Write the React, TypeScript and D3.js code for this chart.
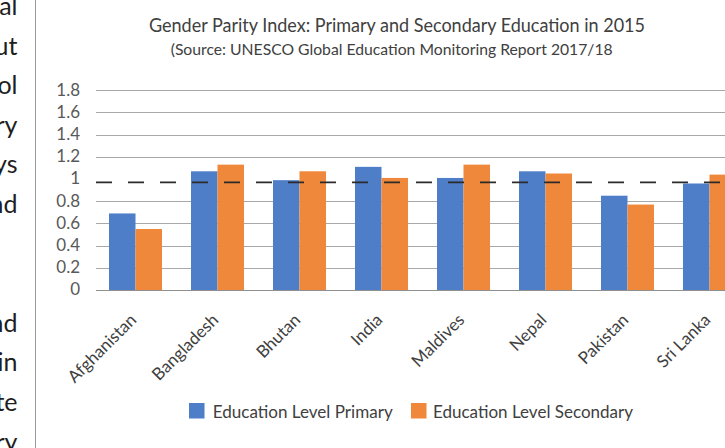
import React from "react";
import * as d3 from "d3";

// Gender Parity Index, 2015 (UNESCO GEM Report 2017/18)
const countries = [
  "Afghanistan",
  "Bangladesh",
  "Bhutan",
  "India",
  "Maldives",
  "Nepal",
  "Pakistan",
  "Sri Lanka",
];
const primary = [0.69, 1.07, 0.99, 1.11, 1.01, 1.07, 0.85, 0.96];
const secondary = [0.55, 1.13, 1.07, 1.01, 1.13, 1.05, 0.77, 1.04];
const seriesNames = ["Education Level Primary", "Education Level Secondary"];
const yTicks = [0, 0.2, 0.4, 0.6, 0.8, 1, 1.2, 1.4, 1.6, 1.8];
const parityLine = 0.97;

// Word endings of the neighbouring page column
const sideText = ["al", "ut", "ol", "ry", "ys", "nd", "", "", "nd", "in", "te", "ry"];

const W = 725;
const H = 448;
const FONT = "Lato, 'Open Sans', 'Noto Sans', sans-serif";
const BLUE = "#4f7ec9";
const ORANGE = "#ef883a";

export default function App() {
  const x = d3.scaleBand<string>().domain(countries).range([94.5, 750.5]).padding(0);
  const y = d3.scaleLinear().domain([0, 1.8]).range([290, 90.3]);
  const barW = 26.5;
  const groupOffset = (x.bandwidth() - 2 * barW) / 2;
  const series = [primary, secondary];
  const colors = [BLUE, ORANGE];

  return (
    <svg
      width={W}
      height={H}
      style={{ position: "absolute", left: 0, top: 0, background: "#fff" }}
      fontFamily={FONT}
    >
      <rect width={W} height={H} fill="#fff" />

      {/* page column on the left */}
      {sideText.map((t, i) =>
        t ? (
          <text key={i} x={17.5} y={15 + i * 39.6} fontSize={25} fill="#1e1e1e" textAnchor="end">
            {t}
          </text>
        ) : null
      )}
      <line x1={35.5} x2={35.5} y1={0} y2={H} stroke="#9a9a9a" strokeWidth={1} />

      {/* titles */}
      <text x={397} y={32} fontSize={19.5} fill="#404040" textAnchor="middle" textLength={496} lengthAdjust="spacingAndGlyphs">
        Gender Parity Index: Primary and Secondary Education in 2015
      </text>
      <text x={391.7} y={55} fontSize={16} fill="#404040" textAnchor="middle" textLength={442} lengthAdjust="spacingAndGlyphs">
        (Source: UNESCO Global Education Monitoring Report 2017/18
      </text>

      {/* gridlines */}
      {yTicks
        .filter((t) => t !== 1)
        .map((t) => (
          <line
            key={t}
            x1={96}
            x2={W}
            y1={Math.round(y(t)) + 0.5}
            y2={Math.round(y(t)) + 0.5}
            stroke={t === 0 ? "#8f8f8f" : "#a8a8a8"}
            strokeWidth={1}
          />
        ))}

      {/* y tick labels */}
      {yTicks.map((t) => (
        <text key={t} x={80} y={y(t) + 1} fontSize={17} fill="#595959" textAnchor="end" dominantBaseline="middle">
          {String(t)}
        </text>
      ))}

      {/* bars */}
      {countries.map((c, i) => (
        <g key={c}>
          {series.map((s, k) => (
            <rect
              key={k}
              x={(x(c) as number) + groupOffset + k * barW}
              y={y(s[i])}
              width={barW}
              height={y(0) - y(s[i])}
              fill={colors[k]}
            />
          ))}
        </g>
      ))}

      {/* parity reference line */}
      <line
        x1={96}
        x2={W}
        y1={y(parityLine)}
        y2={y(parityLine)}
        stroke="#2b2b2b"
        strokeWidth={1.6}
        strokeDasharray="16 16"
      />

      {/* category labels */}
      {countries.map((c) => (
        <text
          key={c}
          transform={`translate(${(x(c) as number) + x.bandwidth() / 2 + 2},321) rotate(-45)`}
          fontSize={17}
          fill="#404040"
          textAnchor="end"
        >
          {c}
        </text>
      ))}

      {/* legend */}
      <rect x={189} y={403} width={15.5} height={15.5} fill={BLUE} />
      <text x={212.7} y={417.5} fontSize={17} fill="#404040" textLength={180} lengthAdjust="spacingAndGlyphs">
        {seriesNames[0]}
      </text>
      <rect x={411} y={403} width={15.5} height={15.5} fill={ORANGE} />
      <text x={433} y={417.5} fontSize={17} fill="#404040" textLength={200} lengthAdjust="spacingAndGlyphs">
        {seriesNames[1]}
      </text>
    </svg>
  );
}
